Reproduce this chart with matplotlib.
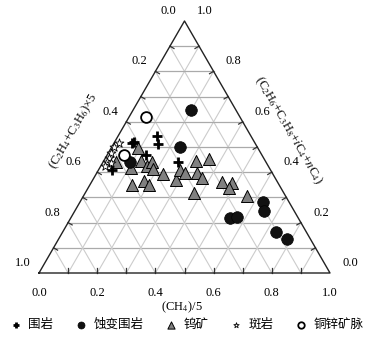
import matplotlib
matplotlib.use('Agg')
import matplotlib.pyplot as plt
import numpy as np

plt.rcParams['font.family'] = ['Liberation Serif', 'Noto Sans CJK SC']
plt.rcParams['mathtext.fontset'] = 'stix'

# ternary values: b = (CH4)/5 (bottom axis), r = (C2H6+C3H8+iC4+nC4) (right axis)
# left axis (C2H4+C3H6)x5 = 1 - b - r
wallrock_b = [0.067, 0.063, 0.133, 0.152, 0.135, 0.257, 0.046]
wallrock_r = [0.521, 0.514, 0.542, 0.512, 0.468, 0.439, 0.410]

altered_b = [0.199, 0.236, 0.093, 0.630, 0.651, 0.546, 0.569, 0.734, 0.785]
altered_r = [0.646, 0.500, 0.439, 0.282, 0.246, 0.220, 0.223, 0.162, 0.136]

wore_b = [0.094, 0.045, 0.129, 0.106, 0.160, 0.166, 0.187, 0.229, 0.146, 0.178,
          0.205, 0.286, 0.280, 0.303, 0.318, 0.359, 0.345, 0.370, 0.375, 0.447,
          0.485, 0.486, 0.560]
wore_r = [0.495, 0.439, 0.446, 0.418, 0.425, 0.442, 0.412, 0.392, 0.348, 0.365,
          0.349, 0.369, 0.409, 0.398, 0.443, 0.451, 0.398, 0.378, 0.316, 0.362,
          0.358, 0.336, 0.307]

porphyry_b = [0.017, 0.010, 0.009, 0.010, 0.013, 0.029, 0.017]
porphyry_r = [0.515, 0.498, 0.476, 0.458, 0.442, 0.437, 0.423]

vein_b = [0.058, 0.059]
vein_r = [0.620, 0.467]

ticks = [0.0, 0.2, 0.4, 0.6, 0.8, 1.0]
tick_labels = ['0.0', '0.2', '0.4', '0.6', '0.8', '1.0']
legend_names = ['围岩', '蚀变围岩', '钨矿', '斑岩', '铜锌矿脉']

H = np.sqrt(3) / 2


def to_xy(b, r):
    b = np.asarray(b)
    r = np.asarray(r)
    return b + r / 2, r * H


fig = plt.figure(figsize=(3.83, 3.42), dpi=100)
ax = fig.add_axes([0, 0, 1, 1])
ax.set_xlim(-39 / 291, 344 / 291)
ax.set_ylim(-69 / 291, 273 / 291)
ax.axis('off')

# grid lines every 0.1
for v in np.arange(0.1, 1.0, 0.1):
    # constant r (horizontal)
    x, y = to_xy([0, 1 - v], [v, v])
    ax.plot(x, y, color='#aaaaaa', lw=0.9, zorder=1)
    # constant b
    x, y = to_xy([v, v], [0, 1 - v])
    ax.plot(x, y, color='#cccccc', lw=0.8, zorder=1)
    # constant left value
    x, y = to_xy([0, 1 - v], [1 - v, 0])
    ax.plot(x, y, color='#cccccc', lw=0.8, zorder=1)

# inward ticks
tl = 0.016
for v in np.arange(0.1, 1.0, 0.1):
    x, y = to_xy(v, 0)
    ax.plot([x, x], [y, y + tl], color='#333333', lw=0.9, zorder=2)
    x, y = to_xy(0, 1 - v)
    ax.plot([x, x + tl * H], [y, y - tl / 2], color='#333333', lw=0.9, zorder=2)
    x, y = to_xy(1 - v, v)
    ax.plot([x, x - tl * H], [y, y - tl / 2], color='#333333', lw=0.9, zorder=2)

# frame
fx, fy = to_xy([0, 1, 0, 0], [0, 0, 1, 0])
ax.plot(fx, fy, color='#222222', lw=1.0, zorder=3)

# tick labels
px = 1 / 291
for v, lab in zip(ticks, tick_labels):
    x, y = to_xy(v, 0)
    ax.text(x, y - 20 * px, lab, ha='center', va='center', fontsize=9)
    x, y = to_xy(0, 1 - v)
    dx = -24 if lab == '0.6' else -16
    ax.text(x + dx * px, y + 10 * px, lab, ha='center', va='center', fontsize=9)
    x, y = to_xy(1 - v, v)
    ax.text(x + 20 * px, y + 10 * px, lab, ha='center', va='center', fontsize=9)

ax.text(0.491, -0.117, '(CH$_4$)/5', ha='center', va='center', fontsize=9)
ax.text(0.118, 0.488, '(C$_2$H$_4$+C$_3$H$_6$)×5', ha='center', va='center',
        fontsize=9, rotation=60)
ax.text(0.858, 0.491, '(C$_2$H$_6$+C$_3$H$_8$+$i$C$_4$+$n$C$_4$)', ha='center',
        va='center', fontsize=9, rotation=-60)

# data points
x, y = to_xy(wore_b, wore_r)
ax.scatter(x, y, marker='^', s=75, c='#808080', edgecolors='black', linewidths=0.7,
           zorder=5, label=legend_names[2])
x, y = to_xy(altered_b, altered_r)
ax.scatter(x, y, marker='o', s=70, c='#111111', edgecolors='black', linewidths=0.5,
           zorder=6, label=legend_names[1])
x, y = to_xy(wallrock_b, wallrock_r)
ax.scatter(x, y, marker='+', s=60, c='black', linewidths=2.0, zorder=7,
           label=legend_names[0])
x, y = to_xy(porphyry_b, porphyry_r)
ax.scatter(x, y, marker='*', s=45, c='white', edgecolors='black', linewidths=0.6,
           zorder=7, label=legend_names[3])
x, y = to_xy(vein_b, vein_r)
ax.scatter(x, y, marker='o', s=60, c='white', edgecolors='black', linewidths=1.3,
           zorder=7, label=legend_names[4])

handles, labels = ax.get_legend_handles_labels()
order = [labels.index(n) for n in legend_names]
ax.legend([handles[i] for i in order], [labels[i] for i in order], ncol=5,
          loc='center', bbox_to_anchor=(0.487, 0.05), bbox_transform=fig.transFigure,
          frameon=False, fontsize=9, markerscale=0.6, handletextpad=0.5,
          columnspacing=1.7, handlelength=1.0, borderpad=0)

fig.savefig('out.png', dpi=100)
